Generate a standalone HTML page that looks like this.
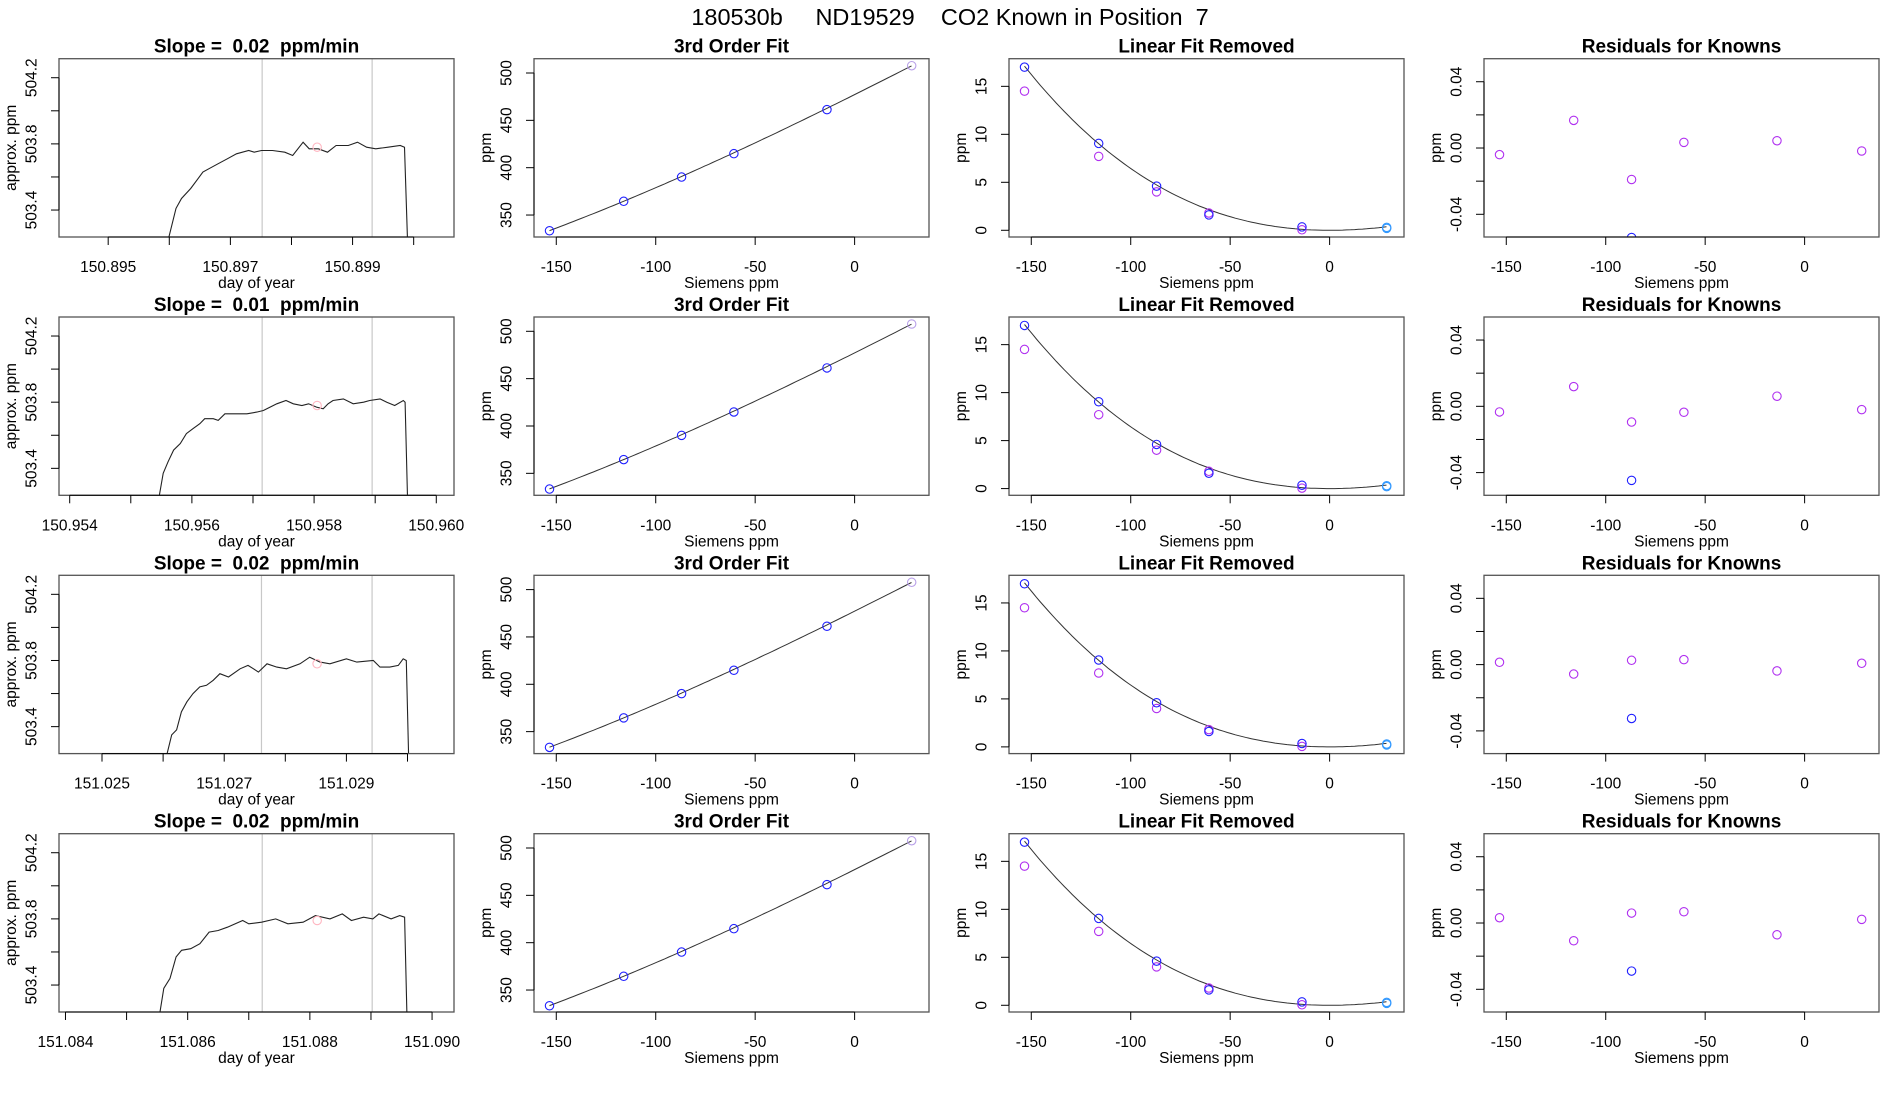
<!DOCTYPE html>
<html><head><meta charset="utf-8"><title>CO2 Known in Position 7</title>
<style>
html,body{margin:0;padding:0;background:#fff;}
svg{display:block;font-family:"Liberation Sans",Arial,sans-serif;}
</style></head>
<body>
<svg id="chart" width="1900" height="1100" viewBox="0 0 1900 1100" xmlns="http://www.w3.org/2000/svg">
<rect width="1900" height="1100" fill="#fff"/>
<text x="950" y="25" font-size="23.5" text-anchor="middle" xml:space="preserve" style="white-space:pre">180530b     ND19529    CO2 Known in Position  7</text>
</svg>
<script>
// ---------- data ----------
const slopes = ["0.02","0.01","0.02","0.02"];
const dayTickOrigins = [150.895,150.954,151.025,151.084];
const dayTickLabelEvery = [[0,2,4],[0,2,4,6],[0,2,4],[0,2,4,6]];
const dayAxisMin = [150.894195,150.953825,151.024296,151.083894];
const dayAxisSpan = 0.006465;
// trace times (thousandths of a day after tick origin) and ppm
const traceOffRow1 = [0.97,1.11,1.20,1.35,1.45,1.55,1.65,1.80,1.95,2.10,2.30,2.39,2.51,2.69,2.89,3.02,3.19,3.29,3.44,3.59,3.73,3.93,4.08,4.23,4.38,4.58,4.78,4.85,4.90];
const tracePpmRow1 = [503.2,503.41,503.47,503.53,503.58,503.63,503.65,503.68,503.71,503.74,503.76,503.75,503.76,503.76,503.75,503.73,503.81,503.77,503.77,503.75,503.79,503.79,503.81,503.78,503.77,503.78,503.79,503.78,503.2];
const traceOffRow2 = [1.45,1.53,1.61,1.70,1.81,1.91,2.02,2.13,2.21,2.35,2.43,2.54,2.68,2.90,3.06,3.17,3.28,3.39,3.54,3.66,3.80,3.91,4.04,4.15,4.23,4.31,4.48,4.64,4.81,4.91,5.08,5.19,5.32,5.46,5.49,5.53];
const tracePpmRow2 = [503.2,503.37,503.44,503.51,503.55,503.61,503.64,503.67,503.70,503.70,503.69,503.73,503.73,503.73,503.74,503.75,503.77,503.79,503.81,503.79,503.78,503.79,503.77,503.76,503.79,503.81,503.82,503.79,503.80,503.81,503.82,503.80,503.78,503.81,503.80,503.2];
const traceOffRow3 = [1.04,1.14,1.22,1.30,1.39,1.49,1.60,1.71,1.82,1.93,2.07,2.26,2.39,2.48,2.56,2.70,2.86,3.02,3.24,3.40,3.57,3.73,4.00,4.17,4.44,4.55,4.71,4.85,4.93,4.98,5.02];
const tracePpmRow3 = [503.2,503.35,503.38,503.49,503.55,503.60,503.64,503.65,503.68,503.72,503.70,503.75,503.77,503.75,503.73,503.78,503.76,503.75,503.78,503.82,503.79,503.78,503.81,503.79,503.80,503.76,503.76,503.77,503.81,503.80,503.2];
const traceOffRow4 = [1.53,1.61,1.71,1.81,1.90,2.05,2.20,2.35,2.50,2.65,2.90,3.00,3.21,3.44,3.64,3.89,4.09,4.33,4.53,4.68,4.88,5.03,5.13,5.33,5.47,5.55,5.59];
const tracePpmRow4 = [503.2,503.38,503.44,503.57,503.61,503.62,503.65,503.72,503.73,503.75,503.79,503.77,503.78,503.80,503.77,503.78,503.82,503.80,503.83,503.79,503.81,503.80,503.83,503.80,503.82,503.81,503.2];
const windowOffsets = [[2.52,4.32],[3.15,4.95],[2.61,4.42],[3.22,5.02]];
const meanMarkOff = [3.42,4.05,3.52,4.12];
const meanMarkPpm = [503.78,503.78,503.78,503.79];
const ppmTicks = [503.4,503.6,503.8,504.0,504.2];
const ppmTickLabels = ["503.4","","503.8","","504.2"];
// calibration panels
const siemens = [-153.4,-116.1,-87.0,-60.7,-13.9,28.7];
const knownPpm = [333.4,364.5,390.1,414.8,461.3,507.7];
const linCoeffs = [477.2,1.048];          // intercept, slope
const cubicCoeffs = [0.000489,-0.00000155]; // x^2, x^3 terms
const removedBlue = [17.0,9.05,4.6,1.6,0.35,0.3];
const removedPurple = [14.5,7.7,4.0,1.8,0.05,0.2];
const residRow1 = [-0.004,0.0167,-0.019,0.0034,0.0044,-0.0018];
const residRow2 = [-0.0034,0.0119,-0.0095,-0.0036,0.0061,-0.002];
const residRow3 = [0.0014,-0.0057,0.0026,0.003,-0.0038,0.0008];
const residRow4 = [0.0032,-0.0107,0.006,0.0068,-0.0071,0.0022];
const residBlue = [-0.054,-0.0447,-0.0325,-0.029];
const siemensTicks = [-150,-100,-50,0];
const fitTicks = [350,400,450,500];
const removedTicks = [0,5,10,15];
const residTicks = [-0.04,-0.02,0,0.02,0.04];
const residTickLabels = ["-0.04","","0.00","","0.04"];

// ---------- layout ----------
const NS="http://www.w3.org/2000/svg";
const svg=document.getElementById('chart');
const colX=[59,534,1009,1484], rowY=[58.7,317,575.3,833.7], PW=395, PH=178.3;
const sDom=[-161.2,37.4];
function mk(tag,attrs,parent,txt){const e=document.createElementNS(NS,tag);for(const k in attrs)e.setAttribute(k,attrs[k]);if(txt!==undefined)e.textContent=txt;(parent||svg).appendChild(e);return e;}
function lin(d0,d1,r0,r1){return v=>r0+(v-d0)/(d1-d0)*(r1-r0);}
let clipN=0;
function panel(r,c,title,xd,yd,name){
  const x0=colX[c],y0=rowY[r];
  const g=mk('g',{});
  
  
  const t=mk('text',{x:x0+PW/2,y:y0-6,'font-size':19,'font-weight':'bold','text-anchor':'middle','xml:space':'preserve',style:'white-space:pre'},g,title);
  
  
  const cid='clip'+(clipN++);
  const cp=mk('clipPath',{id:cid},g);mk('rect',{x:x0,y:y0,width:PW,height:PH},cp);
  const plot=mk('g',{'clip-path':'url(#'+cid+')'},g);
  
  
  const box=mk('rect',{x:x0,y:y0,width:PW,height:PH,fill:'none',stroke:'#555','stroke-width':1.3},g);
  
  
  return {g,plot,x0,y0,sx:lin(xd[0],xd[1],x0,x0+PW),sy:lin(yd[0],yd[1],y0+PH,y0)};
}
function xAxis(p,ticks,labels,title){
  const b=p.y0+PH;
  const vis=ticks.map(p.sx);
  mk('line',{x1:vis[0],x2:vis[vis.length-1],y1:b,y2:b,stroke:'#000'},p.g);
  ticks.forEach((v,i)=>{const x=p.sx(v);
    const tk=mk('line',{x1:x,x2:x,y1:b,y2:b+8,stroke:'#000'},p.g);
    
    
    if(labels[i]){const tl=mk('text',{x:x,y:b+35,'font-size':15.5,'text-anchor':'middle'},p.g,labels[i]);
      
      }
  });
  const at=mk('text',{x:p.x0+PW/2,y:b+51,'font-size':15.5,'text-anchor':'middle'},p.g,title);
  
  
}
function yAxis(p,ticks,labels,title){
  const l=p.x0;
  const vis=ticks.map(p.sy);
  mk('line',{x1:l,x2:l,y1:vis[0],y2:vis[vis.length-1],stroke:'#000'},p.g);
  ticks.forEach((v,i)=>{const y=p.sy(v);
    const tk=mk('line',{x1:l-8,x2:l,y1:y,y2:y,stroke:'#000'},p.g);
    
    
    if(labels[i]){const tl=mk('text',{x:0,y:0,'font-size':15.5,'text-anchor':'middle',transform:`translate(${l-22.5},${y}) rotate(-90)`},p.g,labels[i]);
      
      }
  });
  const at=mk('text',{x:0,y:0,'font-size':15.5,'text-anchor':'middle',transform:`translate(${l-43},${p.y0+PH/2}) rotate(-90)`},p.g,title);
  
  
}
function pt(p,x,y,col,name){const c=mk('circle',{cx:p.sx(x),cy:p.sy(y),r:4.2,fill:'none',stroke:col,'stroke-width':1.1},p.plot);
  
  return c;}
function curve(x){return cubicCoeffs[0]*x*x+cubicCoeffs[1]*x*x*x;}

const traceOff=[traceOffRow1,traceOffRow2,traceOffRow3,traceOffRow4];
const tracePpm=[tracePpmRow1,tracePpmRow2,tracePpmRow3,tracePpmRow4];
const resid=[residRow1,residRow2,residRow3,residRow4];
const BLUE='#2020ff', PURP='#b030f0';

for(let r=0;r<4;r++){
  const o=dayTickOrigins[r];
  const p1=panel(r,0,'Slope =  '+slopes[r]+'  ppm/min',[dayAxisMin[r],dayAxisMin[r]+dayAxisSpan],[503.237,504.315],'slope');
  [0,1].forEach(k=>{const x=p1.sx(o+windowOffsets[r][k]*0.001);
    const wl=mk('line',{x1:x,x2:x,y1:p1.y0,y2:p1.y0+PH,stroke:'#c8c8c8','stroke-width':1.2},p1.plot);
    
    });
  const pts=traceOff[r].map((d,i)=>p1.sx(o+d*0.001).toFixed(1)+','+p1.sy(tracePpm[r][i]).toFixed(1)).join(' ');
  const tr=mk('polyline',{points:pts,fill:'none',stroke:'#222','stroke-width':1.1},p1.plot);
  
  
  pt(p1,o+meanMarkOff[r]*0.001,meanMarkPpm[r],'#ffb6c1','mean-marker');
  const dTicks=[0,1,2,3,4,5,6].map(k=>o+k*0.001).filter(v=>v<=dayAxisMin[r]+dayAxisSpan);
  xAxis(p1,dTicks,dTicks.map((v,k)=>dayTickLabelEvery[r].includes(k)?v.toFixed(3):''),'day of year');
  yAxis(p1,ppmTicks,ppmTickLabels,'approx. ppm');

  const p2=panel(r,1,'3rd Order Fit',sDom,[326.8,515.1],'fit');
  const cp=[];for(let x=siemens[0];x<=siemens[5]+0.01;x+=2){cp.push(p2.sx(x).toFixed(1)+','+p2.sy(linCoeffs[0]+linCoeffs[1]*x+curve(x)).toFixed(1));}
  const fl=mk('polyline',{points:cp.join(' '),fill:'none',stroke:'#333','stroke-width':1},p2.plot);
  
  
  siemens.forEach((x,i)=>pt(p2,x,knownPpm[i],i===5?'#b8a0e8':BLUE,'known-point'));
  xAxis(p2,siemensTicks,siemensTicks.map(String),'Siemens ppm');
  yAxis(p2,fitTicks,fitTicks.map(String),'ppm');

  const p3=panel(r,2,'Linear Fit Removed',sDom,[-0.7,17.88],'linear-removed');
  const cc=[];for(let x=siemens[0];x<=siemens[5]+0.01;x+=2){cc.push(p3.sx(x).toFixed(1)+','+p3.sy(curve(x)).toFixed(1));}
  const cl=mk('polyline',{points:cc.join(' '),fill:'none',stroke:'#333','stroke-width':1},p3.plot);
  
  
  siemens.forEach((x,i)=>pt(p3,x,removedPurple[i],i===5?'#3399ff':PURP,'removed-point-purple'));
  siemens.forEach((x,i)=>pt(p3,x,removedBlue[i],i===5?'#3399ff':BLUE,'removed-point-blue'));
  xAxis(p3,siemensTicks,siemensTicks.map(String),'Siemens ppm');
  yAxis(p3,removedTicks,removedTicks.map(String),'ppm');

  const p4=panel(r,3,'Residuals for Knowns',sDom,[-0.0537,0.0539],'residuals');
  siemens.forEach((x,i)=>pt(p4,x,resid[r][i],PURP,'residual-point'));
  pt(p4,siemens[2],residBlue[r],BLUE,'residual-point-blue');
  xAxis(p4,siemensTicks,siemensTicks.map(String),'Siemens ppm');
  yAxis(p4,residTicks,residTickLabels,'ppm');
}
</script>
</body></html>
